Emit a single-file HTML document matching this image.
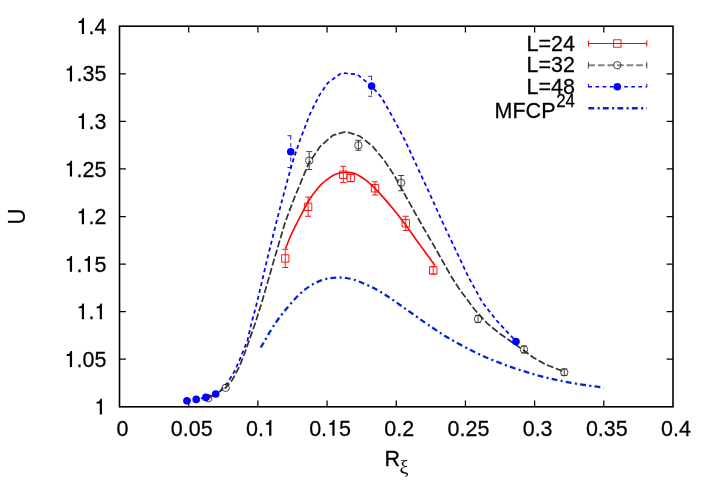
<!DOCTYPE html>
<html><head><meta charset="utf-8"><title>plot</title>
<style>html,body{margin:0;padding:0;background:#fff;}svg{display:block;will-change:transform;}</style></head>
<body>
<svg width="712" height="498" viewBox="0 0 712 498">
<rect width="712" height="498" fill="#fff"/>
<path d="M188.69,406.80 v-6.4 M188.69,26.20 v6.4 M119.50,359.22 h6.4 M673.00,359.22 h-6.4 M257.88,406.80 v-6.4 M257.88,26.20 v6.4 M119.50,311.65 h6.4 M673.00,311.65 h-6.4 M327.06,406.80 v-6.4 M327.06,26.20 v6.4 M119.50,264.08 h6.4 M673.00,264.08 h-6.4 M396.25,406.80 v-6.4 M396.25,26.20 v6.4 M119.50,216.50 h6.4 M673.00,216.50 h-6.4 M465.44,406.80 v-6.4 M465.44,26.20 v6.4 M119.50,168.93 h6.4 M673.00,168.93 h-6.4 M534.62,406.80 v-6.4 M534.62,26.20 v6.4 M119.50,121.35 h6.4 M673.00,121.35 h-6.4 M603.81,406.80 v-6.4 M603.81,26.20 v6.4 M119.50,73.77 h6.4 M673.00,73.77 h-6.4" stroke="#000" stroke-width="1.25" fill="none"/>
<path d="M260.75,347.50 C263.12,343.54 270.54,330.42 275.00,323.75 C279.46,317.08 283.33,312.50 287.50,307.50 C291.67,302.50 295.83,297.58 300.00,293.75 C304.17,289.92 308.33,286.92 312.50,284.50 C316.67,282.08 320.83,280.42 325.00,279.25 C329.17,278.08 333.33,277.58 337.50,277.50 C341.67,277.42 345.83,277.83 350.00,278.75 C354.17,279.67 358.33,281.33 362.50,283.00 C366.67,284.67 370.83,286.54 375.00,288.75 C379.17,290.96 383.33,293.54 387.50,296.25 C391.67,298.96 395.83,302.08 400.00,305.00 C404.17,307.92 407.88,310.50 412.50,313.75 C417.12,317.00 421.82,320.50 427.75,324.50 C433.68,328.50 440.03,333.03 448.10,337.75 C456.18,342.47 466.83,348.32 476.20,352.80 C485.57,357.28 494.93,361.10 504.30,364.60 C513.67,368.10 523.05,371.10 532.40,373.80 C541.75,376.50 551.05,378.83 560.40,380.80 C569.75,382.77 581.27,384.48 588.50,385.60 C595.73,386.72 601.21,387.18 603.75,387.50" stroke="#0028c8" stroke-width="2.3" stroke-dasharray="5.8 3.4 2.1 3.2" fill="none"/>
<path d="M186.90,400.80 L196.20,399.40 L205.80,397.40 L215.70,394.00 L220.60,390.60 L227.40,383.00 L235.00,370.40 L240.90,356.90 L247.60,340.00 L251.25,324.00 L257.00,302.50 L267.00,260.00 L278.00,215.70 L287.50,180.00 L293.20,160.00 L300.25,139.30 L310.40,113.00 L319.70,94.60 L328.10,82.60 L341.60,72.90 L357.20,74.40 L371.60,86.20 L381.30,97.10 L390.00,112.30 L400.00,131.00 L405.00,140.50 L416.40,165.00 L431.00,196.60 L443.60,224.50 L452.00,242.20 L468.40,277.00 L482.50,302.50 L497.00,321.00 L512.50,337.50 L516.00,341.50" stroke="#0000ff" stroke-width="1.75" stroke-dasharray="4 3.1" fill="none"/>
<path d="M208.30,398.20 L225.70,387.80 L232.40,379.70 L239.20,367.00 L244.30,354.30 L249.30,340.00 L255.00,324.00 L262.50,300.00 L274.00,260.00 L285.00,222.80 L293.50,200.00 L300.00,184.30 L308.40,164.00 L320.25,146.30 L332.90,135.30 L345.90,131.60 L359.90,136.20 L372.60,146.30 L384.40,160.60 L394.50,175.80 L403.10,191.50 L412.00,207.40 L423.40,227.80 L433.00,244.10 L452.00,277.80 L460.00,290.00 L475.00,310.00 L487.50,323.75 L500.00,333.75 L512.50,342.50 L525.00,351.25 L532.50,357.00 L545.00,364.30 L564.25,371.75" stroke="#303030" stroke-width="1.7" stroke-dasharray="7 2.5" fill="none"/>
<path d="M285.50,248.75 C286.42,246.46 289.08,239.32 291.00,235.00 C292.92,230.68 294.95,226.87 297.00,222.80 C299.05,218.73 301.20,214.53 303.30,210.60 C305.40,206.67 307.48,202.57 309.60,199.20 C311.72,195.83 313.88,193.03 316.00,190.40 C318.12,187.77 320.20,185.40 322.30,183.40 C324.40,181.40 326.48,179.87 328.60,178.40 C330.72,176.93 332.88,175.55 335.00,174.60 C337.12,173.65 339.20,173.08 341.30,172.70 C343.40,172.32 345.48,172.20 347.60,172.30 C349.72,172.40 351.72,172.52 354.00,173.30 C356.28,174.08 359.02,175.62 361.30,177.00 C363.58,178.38 365.58,179.87 367.70,181.60 C369.82,183.33 371.90,185.32 374.00,187.40 C376.10,189.48 378.20,191.82 380.30,194.10 C382.40,196.38 384.48,198.67 386.60,201.10 C388.72,203.53 390.88,206.12 393.00,208.70 C395.12,211.28 396.85,213.43 399.30,216.60 C401.75,219.77 404.20,222.90 407.70,227.70 C411.20,232.50 415.75,239.10 420.30,245.40 C424.85,251.70 432.55,262.15 435.00,265.50" stroke="#ff0000" stroke-width="1.6" fill="none"/>
<path d="M285.25,249.25 V267.50 M282.25,249.25 h6.00 M282.25,267.50 h6.00" stroke="#ff0000" stroke-width="0.9" fill="none"/>
<rect x="281.55" y="254.80" width="7.4" height="7.4" fill="none" stroke="#ff0000" stroke-width="0.9" stroke-linejoin="round"/>
<path d="M308.10,197.00 V216.25 M305.10,197.00 h6.00 M305.10,216.25 h6.00" stroke="#ff0000" stroke-width="0.9" fill="none"/>
<rect x="304.40" y="203.10" width="7.4" height="7.4" fill="none" stroke="#ff0000" stroke-width="0.9" stroke-linejoin="round"/>
<path d="M343.25,166.25 V182.50 M340.25,166.25 h6.00 M340.25,182.50 h6.00" stroke="#ff0000" stroke-width="0.9" fill="none"/>
<rect x="339.55" y="171.00" width="7.4" height="7.4" fill="none" stroke="#ff0000" stroke-width="0.9" stroke-linejoin="round"/>
<path d="M350.70,174.25 V181.75 M347.70,174.25 h6.00 M347.70,181.75 h6.00" stroke="#ff0000" stroke-width="0.9" fill="none"/>
<rect x="347.00" y="174.10" width="7.4" height="7.4" fill="none" stroke="#ff0000" stroke-width="0.9" stroke-linejoin="round"/>
<path d="M375.00,181.75 V195.00 M372.00,181.75 h6.00 M372.00,195.00 h6.00" stroke="#ff0000" stroke-width="0.9" fill="none"/>
<rect x="371.30" y="184.55" width="7.4" height="7.4" fill="none" stroke="#ff0000" stroke-width="0.9" stroke-linejoin="round"/>
<path d="M405.75,216.25 V230.50 M402.75,216.25 h6.00 M402.75,230.50 h6.00" stroke="#ff0000" stroke-width="0.9" fill="none"/>
<rect x="402.05" y="219.55" width="7.4" height="7.4" fill="none" stroke="#ff0000" stroke-width="0.9" stroke-linejoin="round"/>
<path d="M433.20,266.70 V274.10 M430.20,266.70 h6.00 M430.20,274.10 h6.00" stroke="#ff0000" stroke-width="0.9" fill="none"/>
<rect x="429.50" y="266.70" width="7.4" height="7.4" fill="none" stroke="#ff0000" stroke-width="0.9" stroke-linejoin="round"/>
<circle cx="208.30" cy="398.20" r="3.7" fill="none" stroke="#303030" stroke-width="0.9"/>
<circle cx="225.70" cy="387.80" r="3.7" fill="none" stroke="#303030" stroke-width="0.9"/>
<path d="M309.20,151.60 V169.50 M306.20,151.60 h6.00 M306.20,169.50 h6.00" stroke="#303030" stroke-width="0.9" fill="none"/>
<circle cx="309.20" cy="160.60" r="3.7" fill="none" stroke="#303030" stroke-width="0.9"/>
<path d="M358.40,140.30 V150.30 M355.40,140.30 h6.00 M355.40,150.30 h6.00" stroke="#303030" stroke-width="0.9" fill="none"/>
<circle cx="358.40" cy="145.30" r="3.7" fill="none" stroke="#303030" stroke-width="0.9"/>
<path d="M401.10,175.50 V190.75 M398.10,175.50 h6.00 M398.10,190.75 h6.00" stroke="#303030" stroke-width="0.9" fill="none"/>
<circle cx="401.10" cy="182.80" r="3.7" fill="none" stroke="#303030" stroke-width="0.9"/>
<path d="M478.00,315.40 V322.60 M475.00,315.40 h6.00 M475.00,322.60 h6.00" stroke="#303030" stroke-width="0.9" fill="none"/>
<circle cx="478.00" cy="319.00" r="3.7" fill="none" stroke="#303030" stroke-width="0.9"/>
<path d="M524.00,346.00 V353.00 M521.00,346.00 h6.00 M521.00,353.00 h6.00" stroke="#303030" stroke-width="0.9" fill="none"/>
<circle cx="524.00" cy="349.50" r="3.7" fill="none" stroke="#303030" stroke-width="0.9"/>
<path d="M564.25,369.00 V375.50 M561.25,369.00 h6.00 M561.25,375.50 h6.00" stroke="#303030" stroke-width="0.9" fill="none"/>
<circle cx="564.25" cy="372.25" r="3.7" fill="none" stroke="#303030" stroke-width="0.9"/>
<circle cx="186.90" cy="400.80" r="3.8" fill="#0000ff"/>
<circle cx="196.20" cy="399.40" r="3.8" fill="#0000ff"/>
<circle cx="205.80" cy="397.40" r="3.8" fill="#0000ff"/>
<circle cx="215.70" cy="394.00" r="3.8" fill="#0000ff"/>
<path d="M287.45,135.75 h3.8 M287.45,167.50 h3.8" stroke="#0000ff" stroke-width="0.9" fill="none"/><path d="M290.75,135.75 V167.50" stroke="#0000ff" stroke-width="0.9" stroke-dasharray="4 3.2" fill="none"/>
<circle cx="290.75" cy="151.75" r="3.8" fill="#0000ff"/>
<path d="M368.30,76.25 h3.8 M368.30,96.25 h3.8" stroke="#0000ff" stroke-width="0.9" fill="none"/><path d="M371.60,76.25 V96.25" stroke="#0000ff" stroke-width="0.9" stroke-dasharray="4 3.2" fill="none"/>
<circle cx="371.60" cy="86.10" r="3.8" fill="#0000ff"/>
<circle cx="516.00" cy="341.50" r="3.8" fill="#0000ff"/>
<rect x="119.50" y="26.20" width="553.50" height="380.60" fill="none" stroke="#000" stroke-width="1.6"/>
<path d="M588.40,43.50 H646.80" stroke="#ff0000" stroke-width="1" fill="none"/><path d="M588.40,40.50 v6 M646.80,40.50 v6" stroke="#ff0000" stroke-width="1" fill="none"/>
<rect x="613.60" y="39.80" width="7.4" height="7.4" fill="none" stroke="#ff0000" stroke-width="0.9"/>
<path d="M588.40,65.25 H646.80" stroke="#858585" stroke-width="1.8" fill="none" stroke-dasharray="6.7 2.85"/><path d="M588.40,62.05 v6.4 M646.80,62.05 v6.4" stroke="#333" stroke-width="0.9" fill="none"/>
<circle cx="617.30" cy="65.25" r="3.7" fill="none" stroke="#303030" stroke-width="0.9"/>
<path d="M588.40,86.75 H646.80" stroke="#0000ff" stroke-width="1.4" fill="none" stroke-dasharray="3.6 3.55"/><path d="M588.40,83.75 v3.6 M646.80,83.75 v3.6" stroke="#0000ff" stroke-width="1" fill="none"/>
<circle cx="617.30" cy="86.75" r="3.8" fill="#0000ff"/>
<path d="M588.40,108.25 H646.80" stroke="#0028c8" stroke-width="2.3" stroke-dasharray="5.8 3.4 2.1 3.2" fill="none"/>
<g font-family="Liberation Sans, sans-serif" font-size="21.5" fill="#000" stroke="#000" stroke-width="0.25">
<g transform="translate(526.58,50.60) scale(1,1.040)"><text x="0.00" y="0" font-size="21.50">L=24</text></g>
<g transform="translate(526.58,72.10) scale(1,1.040)"><text x="0.00" y="0" font-size="21.50">L=32</text></g>
<g transform="translate(526.58,93.80) scale(1,1.040)"><text x="0.00" y="0" font-size="21.50">L=48</text></g>
<g transform="translate(494.59,117.50) scale(1,1.040)"><text x="0.00" y="0" font-size="21.50">MFCP</text></g>
<g transform="translate(556.21,106.90) scale(1,1.040)"><text x="0.00" y="0" font-size="16.90">24</text></g>
<g transform="translate(94.45,414.50) scale(1,1.040)"><path transform="translate(0.00,0) scale(1.000)" d="M7.5,0 L5.3,0 L5.3,-10.6 L2.1,-10.6 L2.1,-12.15 C4.1,-12.15 5.45,-12.95 6.05,-15.2 L7.5,-15.2 Z" stroke="none"/></g>
<g transform="translate(64.56,366.92) scale(1,1.040)"><path transform="translate(0.00,0) scale(1.000)" d="M7.5,0 L5.3,0 L5.3,-10.6 L2.1,-10.6 L2.1,-12.15 C4.1,-12.15 5.45,-12.95 6.05,-15.2 L7.5,-15.2 Z" stroke="none"/><text x="11.95" y="0" font-size="21.50">.05</text></g>
<g transform="translate(76.52,319.35) scale(1,1.040)"><path transform="translate(0.00,0) scale(1.000)" d="M7.5,0 L5.3,0 L5.3,-10.6 L2.1,-10.6 L2.1,-12.15 C4.1,-12.15 5.45,-12.95 6.05,-15.2 L7.5,-15.2 Z" stroke="none"/><text x="11.95" y="0" font-size="21.50">.</text><path transform="translate(17.93,0) scale(1.000)" d="M7.5,0 L5.3,0 L5.3,-10.6 L2.1,-10.6 L2.1,-12.15 C4.1,-12.15 5.45,-12.95 6.05,-15.2 L7.5,-15.2 Z" stroke="none"/></g>
<g transform="translate(64.56,271.78) scale(1,1.040)"><path transform="translate(0.00,0) scale(1.000)" d="M7.5,0 L5.3,0 L5.3,-10.6 L2.1,-10.6 L2.1,-12.15 C4.1,-12.15 5.45,-12.95 6.05,-15.2 L7.5,-15.2 Z" stroke="none"/><text x="11.95" y="0" font-size="21.50">.</text><path transform="translate(17.93,0) scale(1.000)" d="M7.5,0 L5.3,0 L5.3,-10.6 L2.1,-10.6 L2.1,-12.15 C4.1,-12.15 5.45,-12.95 6.05,-15.2 L7.5,-15.2 Z" stroke="none"/><text x="29.89" y="0" font-size="21.50">5</text></g>
<g transform="translate(76.52,224.20) scale(1,1.040)"><path transform="translate(0.00,0) scale(1.000)" d="M7.5,0 L5.3,0 L5.3,-10.6 L2.1,-10.6 L2.1,-12.15 C4.1,-12.15 5.45,-12.95 6.05,-15.2 L7.5,-15.2 Z" stroke="none"/><text x="11.95" y="0" font-size="21.50">.2</text></g>
<g transform="translate(64.56,176.62) scale(1,1.040)"><path transform="translate(0.00,0) scale(1.000)" d="M7.5,0 L5.3,0 L5.3,-10.6 L2.1,-10.6 L2.1,-12.15 C4.1,-12.15 5.45,-12.95 6.05,-15.2 L7.5,-15.2 Z" stroke="none"/><text x="11.95" y="0" font-size="21.50">.25</text></g>
<g transform="translate(76.52,129.05) scale(1,1.040)"><path transform="translate(0.00,0) scale(1.000)" d="M7.5,0 L5.3,0 L5.3,-10.6 L2.1,-10.6 L2.1,-12.15 C4.1,-12.15 5.45,-12.95 6.05,-15.2 L7.5,-15.2 Z" stroke="none"/><text x="11.95" y="0" font-size="21.50">.3</text></g>
<g transform="translate(64.56,81.47) scale(1,1.040)"><path transform="translate(0.00,0) scale(1.000)" d="M7.5,0 L5.3,0 L5.3,-10.6 L2.1,-10.6 L2.1,-12.15 C4.1,-12.15 5.45,-12.95 6.05,-15.2 L7.5,-15.2 Z" stroke="none"/><text x="11.95" y="0" font-size="21.50">.35</text></g>
<g transform="translate(76.52,33.90) scale(1,1.040)"><path transform="translate(0.00,0) scale(1.000)" d="M7.5,0 L5.3,0 L5.3,-10.6 L2.1,-10.6 L2.1,-12.15 C4.1,-12.15 5.45,-12.95 6.05,-15.2 L7.5,-15.2 Z" stroke="none"/><text x="11.95" y="0" font-size="21.50">.4</text></g>
<g transform="translate(116.52,435.80) scale(1,1.040)"><text x="0.00" y="0" font-size="21.50">0</text></g>
<g transform="translate(170.77,435.80) scale(1,1.040)"><text x="0.00" y="0" font-size="21.50">0.05</text></g>
<g transform="translate(245.93,435.80) scale(1,1.040)"><text x="0.00" y="0" font-size="21.50">0.</text><path transform="translate(17.93,0) scale(1.000)" d="M7.5,0 L5.3,0 L5.3,-10.6 L2.1,-10.6 L2.1,-12.15 C4.1,-12.15 5.45,-12.95 6.05,-15.2 L7.5,-15.2 Z" stroke="none"/></g>
<g transform="translate(309.14,435.80) scale(1,1.040)"><text x="0.00" y="0" font-size="21.50">0.</text><path transform="translate(17.93,0) scale(1.000)" d="M7.5,0 L5.3,0 L5.3,-10.6 L2.1,-10.6 L2.1,-12.15 C4.1,-12.15 5.45,-12.95 6.05,-15.2 L7.5,-15.2 Z" stroke="none"/><text x="29.89" y="0" font-size="21.50">5</text></g>
<g transform="translate(384.31,435.80) scale(1,1.040)"><text x="0.00" y="0" font-size="21.50">0.2</text></g>
<g transform="translate(447.52,435.80) scale(1,1.040)"><text x="0.00" y="0" font-size="21.50">0.25</text></g>
<g transform="translate(522.68,435.80) scale(1,1.040)"><text x="0.00" y="0" font-size="21.50">0.3</text></g>
<g transform="translate(585.89,435.80) scale(1,1.040)"><text x="0.00" y="0" font-size="21.50">0.35</text></g>
<g transform="translate(661.06,435.80) scale(1,1.040)"><text x="0.00" y="0" font-size="21.50">0.4</text></g>
<g transform="translate(384.60,465.90) scale(1,1.040)"><text x="0.00" y="0" font-size="21.50">R</text></g>
<text transform="translate(399.6,473.4) scale(1.06,1)" font-family="Liberation Serif, serif" font-size="19" stroke="none">ξ</text>
<text transform="translate(25.1,216.5) rotate(-90) scale(1,1.05)" text-anchor="middle" font-size="22" stroke-width="0.15">U</text>
</g>
</svg>
</body></html>
